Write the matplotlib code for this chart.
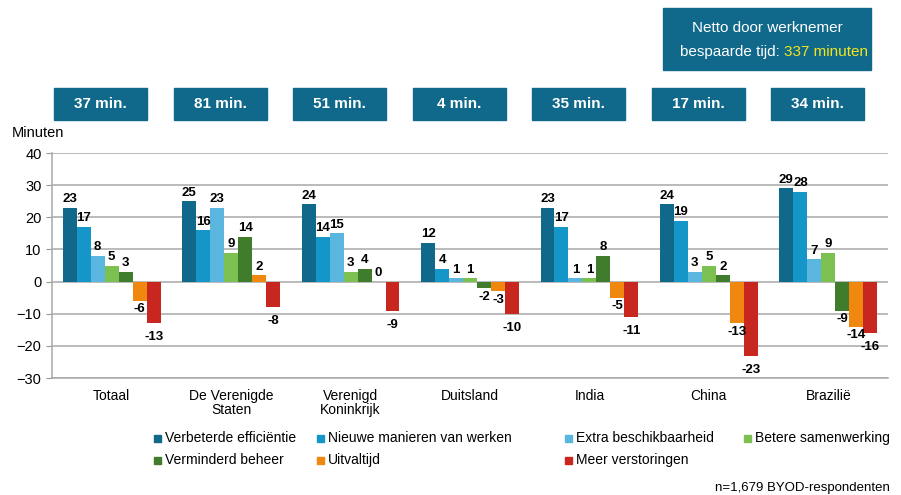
import numpy as np
import matplotlib.pyplot as plt
from matplotlib.patches import Rectangle

plt.rcParams['font.family'] = ['Liberation Sans', 'DejaVu Sans']

landen = ["Totaal", "De Verenigde\nStaten", "Verenigd\nKoninkrijk", "Duitsland",
          "India", "China", "Brazilië"]
series = ["Verbeterde efficiëntie", "Nieuwe manieren van werken", "Extra beschikbaarheid",
          "Betere samenwerking", "Verminderd beheer", "Uitvaltijd", "Meer verstoringen"]
efficientie = [23, 25, 24, 12, 23, 24, 29]
nieuwe_manieren = [17, 16, 14, 4, 17, 19, 28]
beschikbaarheid = [8, 23, 15, 1, 1, 3, 7]
samenwerking = [5, 9, 3, 1, 1, 5, 9]
beheer = [3, 14, 4, -2, 8, 2, -9]
uitvaltijd = [-6, 2, 0, -3, -5, -13, -14]
verstoringen = [-13, -8, -9, -10, -11, -23, -16]
netto = ["37 min.", "81 min.", "51 min.", "4 min.", "35 min.", "17 min.", "34 min."]

kleuren = ["#10688a", "#1596c8", "#5ab6de", "#7cc052", "#3f7d2c", "#f0870e", "#c7271f"]
waarden = [efficientie, nieuwe_manieren, beschikbaarheid, samenwerking, beheer,
           uitvaltijd, verstoringen]

W, H = 901, 495


def fx(px):
    return px / W


def fy(py):
    return 1 - py / H


fig = plt.figure(figsize=(W / 100, H / 100), dpi=100)
ax = fig.add_axes([fx(52), fy(378), fx(888) - fx(52), fy(153) - fy(378)])

x = np.arange(len(landen))
w = 0.117
for i, (vals, kleur) in enumerate(zip(waarden, kleuren)):
    pos = x - 3 * w + i * w
    ax.bar(pos, vals, w, color=kleur, zorder=3)
    # value labels
    for px, v in zip(pos, vals):
        if v >= 0:
            ax.text(px, v + 0.8, str(v), ha="center", va="bottom", fontsize=9.5,
                    fontweight="bold", zorder=4)
        else:
            # the last (red) series sits a bit lower, like in the original
            dy = 2.5 if i == 6 else 0.8
            ax.text(px, v - dy, str(v), ha="center", va="top", fontsize=9.5,
                    fontweight="bold", zorder=4)

ax.set_xlim(-0.5, len(landen) - 0.5)
ax.set_ylim(-30, 40)
ax.set_yticks(range(-30, 41, 10))
ax.set_xticks(x)
ax.set_xticklabels(landen, fontsize=10, va="top", linespacing=1.0)
ax.tick_params(axis="x", length=0, pad=8)
ax.tick_params(axis="y", length=4, color="#999999", labelsize=10.5)
ax.grid(axis="y", color="#a8a8a8", linewidth=1.1, zorder=0)
for s in ["top", "right"]:
    ax.spines[s].set_visible(False)
for s in ["left", "bottom"]:
    ax.spines[s].set_color("#a8a8a8")
    ax.spines[s].set_linewidth(1.1)
fig.text(fx(12), fy(133), "Minuten", ha="left", va="center", fontsize=10.5)

# blue boxes above each group
for i, t in enumerate(netto):
    bx = 52 + i * 119.5 + 2
    fig.patches.append(Rectangle((fx(bx), fy(120)), 93 / W, 32 / H,
                                 transform=fig.transFigure, color="#10688a"))
    fig.text(fx(bx + 46.5), fy(104), t, color="white", ha="center", va="center",
             fontsize=11, fontweight="bold")

fig.patches.append(Rectangle((fx(663), fy(70)), 208 / W, 62 / H,
                             transform=fig.transFigure, color="#10688a"))
fig.text(fx(767), fy(28), "Netto door werknemer", color="white", ha="center",
         va="center", fontsize=11)
t1 = fig.text(fx(680), fy(52), "bespaarde tijd:", color="white", ha="left",
              va="center", fontsize=11)
# put the yellow part right after the white part
r = fig.canvas.get_renderer()
bb = t1.get_window_extent(renderer=r)
fig.text(bb.x1 / fig.bbox.width + fx(4), fy(52), "337 minuten", color="#f4e51b",
         ha="left", va="center", fontsize=11)

# legend drawn by hand
leg_x = [157, 320, 568, 747]
leg_y = [438, 460]
plek = [(0, 0), (1, 0), (2, 0), (3, 0), (0, 1), (1, 1), (2, 1)]
for naam, kleur, (c, rij) in zip(series, kleuren, plek):
    fig.patches.append(Rectangle((fx(leg_x[c] - 3.5), fy(leg_y[rij] + 3.5)), 7 / W, 7 / H,
                                 transform=fig.transFigure, color=kleur))
    fig.text(fx(leg_x[c] + 8), fy(leg_y[rij]), naam, ha="left", va="center", fontsize=10)

fig.text(fx(890), fy(488), "n=1,679 BYOD-respondenten", ha="right", va="center",
         fontsize=9.5)

fig.savefig("out.png", dpi=100)
